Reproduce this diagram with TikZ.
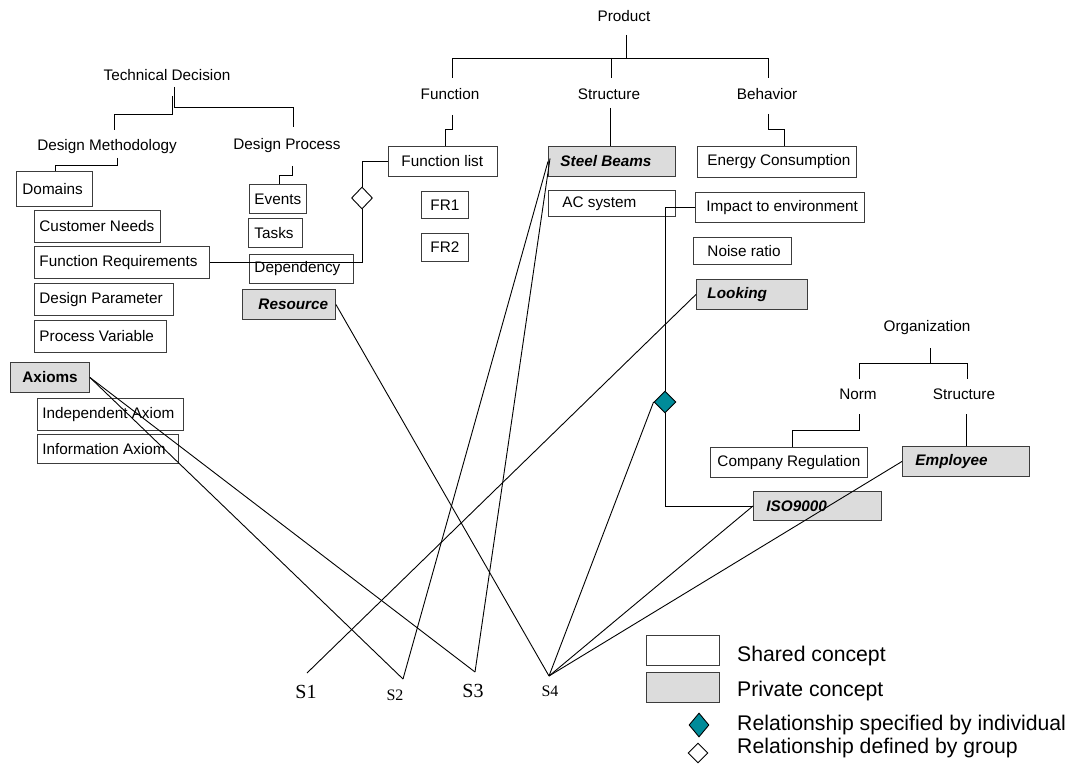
\documentclass[tikz,border=0pt]{standalone}
\usepackage{fontspec}
\setmainfont{Liberation Sans}
\newfontfamily\serifS{Liberation Serif}
\usetikzlibrary{shapes.geometric}

\definecolor{privgrey}{RGB}{220,220,220}
\definecolor{relteal}{RGB}{0,139,153}
\definecolor{boxline}{RGB}{60,60,60}

\tikzset{
  concept/.style={draw=boxline, line width=0.9pt, fill=white, text=black,
                  font=\fontsize{15.3}{17}\selectfont},
  shared/.style={concept},
  private/.style={concept, fill=privgrey, font=\fontsize{15.3}{17}\selectfont\bfseries\itshape},
  privateup/.style={concept, fill=privgrey, font=\fontsize{15.3}{17}\selectfont\bfseries},
  lbl/.style={inner sep=0pt, font=\fontsize{15.3}{17}\selectfont},
  tree/.style={draw=black, line width=0.9pt},
  link/.style={draw=black, line width=0.9pt},
  relind/.style={diamond, draw=black, line width=0.9pt, fill=relteal, inner sep=0pt,
                 minimum width=22pt, minimum height=22pt},
  relgrp/.style={diamond, draw=black, line width=0.9pt, fill=white, inner sep=0pt,
                 minimum width=21pt, minimum height=22pt},
  slbl/.style={inner sep=0pt, font=\serifS\fontsize{20}{22}\selectfont},
  slblsmall/.style={inner sep=0pt, font=\serifS\fontsize{16}{18}\selectfont},
  legtext/.style={inner sep=0pt, anchor=west, font=\fontsize{21.2}{23}\selectfont},
}

% concept box: name, style, x1, y1, x2, y2, left padding, text
\newcommand\cbox[8]{%
  \pgfmathsetmacro\cbw{#5-#3-2*#7}%
  \pgfmathsetmacro\cbh{#6-#4}%
  \node[#2, anchor=north west, inner xsep=#7pt, inner ysep=0pt,
        minimum height=\cbh pt] (#1) at (#3,#4) {\makebox[\cbw pt][l]{#8}};}

\begin{document}
\begin{tikzpicture}[x=1pt,y=-1pt]
\useasboundingbox (0,0) rectangle (1073,770);

% ---------- Technical decision tree ----------
\node[lbl] (td) at (167,75) {Technical Decision};
\node[lbl] (dm) at (107,147) {Design Methodology};
\node[lbl] (dp) at (287,146) {Design Process};

\cbox{dom}{shared}{16}{171}{92}{206}{6}{Domains}
\cbox{cn}{shared}{34}{210}{160}{242}{5}{Customer Needs}
\cbox{freq}{shared}{34}{246}{209}{278}{5}{Function Requirements}
\cbox{dpar}{shared}{34}{283}{173}{315}{5}{Design Parameter}
\cbox{pv}{shared}{34}{320}{166}{352}{5}{Process Variable}

\cbox{ev}{shared}{249}{184}{306}{213}{5}{Events}
\cbox{tk}{shared}{248}{218}{302}{247}{6}{Tasks}
\cbox{dep}{shared}{249}{254}{353}{283}{5}{Dependency}
\cbox{res}{private}{242}{289}{335}{319}{16}{Resource}

\cbox{ax}{privateup}{10}{362}{89}{392}{12}{Axioms}
\cbox{ia}{shared}{37}{398}{183}{430}{5}{Independent Axiom}
\cbox{infa}{shared}{37}{434}{178}{463}{5}{Information Axiom}

\draw[tree] (174,87) -- (174,107) -- (293,107) -- (293,127);
\draw[tree] (172,96) -- (172,114) -- (114,114) -- (114,130);
\draw[tree] (117,158) -- (117,165) -- (55,165) -- (dom.north -| 55,0);
\draw[tree] (292,166) -- (292,175) -- (279,175) -- (279,184);

% ---------- Product tree ----------
\node[lbl] (prod) at (624,16) {Product};
\node[lbl] (fn) at (450,94) {Function};
\node[lbl] (st) at (609,94) {Structure};
\node[lbl] (bh) at (767,94) {Behavior};

\cbox{flist}{shared}{388}{146}{497}{176}{13}{Function list}
\cbox{fr1}{shared}{421}{191}{468}{218}{9}{FR1}
\cbox{fr2}{shared}{421}{233}{468}{261}{9}{FR2}
\cbox{sb}{private}{548}{146}{675}{176}{12}{Steel Beams}
\cbox{ac}{shared}{548}{190}{675}{216}{14}{AC system}
\cbox{en}{shared}{697}{146}{856}{177}{10}{Energy Consumption}
\cbox{imp}{shared}{695}{192}{864}{222}{11}{Impact to environment}
\cbox{nr}{shared}{693}{237}{791}{264}{14}{Noise ratio}
\cbox{look}{private}{696}{279}{807}{309}{11}{Looking}

\draw[tree] (626,35) -- (626,58);
\draw[tree] (452,78) -- (452,58) -- (768,58) -- (768,78);
\draw[tree] (611,58) -- (611,78);
\draw[tree] (452,115) -- (452,129) -- (445,129) -- (445,146);
\draw[tree] (610,108) -- (610,146);
\draw[tree] (768,114) -- (768,129) -- (784,129) -- (784,146);

% ---------- Organization tree ----------
\node[lbl] (org) at (927,328) {Organization};
\node[lbl] (norm) at (858,394) {Norm};
\node[lbl] (ost) at (964,394) {Structure};

\cbox{cr}{shared}{710}{447}{867}{477}{7}{Company Regulation}
\cbox{emp}{private}{902}{446}{1029}{476}{13}{Employee}
\cbox{iso}{private}{753}{491}{881}{520}{13}{ISO9000}

\draw[tree] (930,348) -- (930,363);
\draw[tree] (859,379) -- (859,363) -- (967,363) -- (967,379);
\draw[tree] (859,414) -- (859,430) -- (792,430) -- (792,447);
\draw[tree] (966,414) -- (966,446);

% ---------- Relationships ----------
\node[relgrp] (wd) at (362,198) {};
\draw[link] (flist.west) -| (wd.north);
\draw[link] (wd.south) |- (freq.east);

\node[relind] (td1) at (665,402) {};
\draw[link] (imp.west) -| (td1.north);
\draw[link] (td1.south) |- (iso.west);

% ---------- Stakeholders ----------
\coordinate (p1) at (307,673);
\coordinate (p2) at (403,679);
\coordinate (p3) at (475,672);
\coordinate (p4) at (549,676);
\node[slbl] (s1) at (306,692) {S1};
\node[slblsmall] (s2) at (395,695) {S2};
\node[slbl] (s3) at (473,691) {S3};
\node[slblsmall] (s4) at (550,691) {S4};

\draw[link] (p1) -- (look.west);
\draw[link] (p2) -- (ax.east);
\draw[link] (p2) -- (sb.west);
\draw[link] (p3) -- (ax.east);
\draw[link] (p3) -- ([xshift=2pt,yshift=3pt]sb.west);
\draw[link] (p4) -- (res.east);
\draw[link] (p4) -- (td1.west);
\draw[link] (p4) -- (iso.west);
\draw[link] (p4) -- (emp.west);

% ---------- Legend ----------
\cbox{lgs}{shared}{646}{635}{719}{665}{5}{}
\cbox{lgp}{private}{646}{672}{719}{702}{5}{}
\node[legtext] (lgst) at (737,656) {Shared concept};
\node[legtext] (lgpt) at (737,691) {Private concept};
\node[relind, minimum width=20pt, minimum height=24pt] (lgi) at (699,725) {};
\node[relgrp, minimum width=20pt, minimum height=20pt] (lgg) at (698,753) {};
\node[legtext] (lgit) at (737,725) {Relationship specified by individual};
\node[legtext] (lggt) at (737,748) {Relationship defined by group};
\end{tikzpicture}
\end{document}
